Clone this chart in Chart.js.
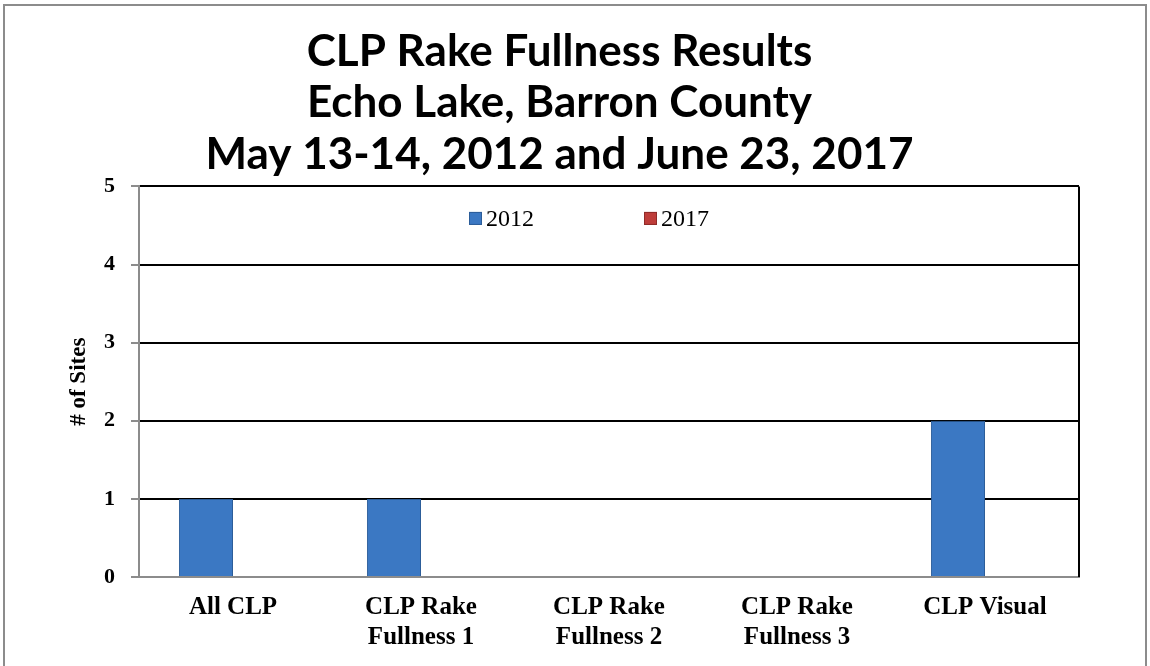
<!DOCTYPE html>
<html>
<head>
<meta charset="utf-8">
<script src="https://cdn.jsdelivr.net/npm/chart.js@4.4.0/dist/chart.umd.min.js"></script>
<style>
  html, body { margin: 0; padding: 0; background: #fff; }
  #wrap { position: relative; width: 1150px; height: 666px; }
  #frame { position: absolute; left: 3px; top: 4px; width: 1144px; height: 670px; border: 2px solid #8c8c8c; box-sizing: border-box; }
  canvas { position: absolute; left: 0; top: 0; }
</style>
</head>
<body>
<div id="wrap">
  <div id="frame"></div>
  <canvas id="chart" width="1150" height="666"></canvas>
</div>
<script>
  const categories = [
    'All CLP',
    ['CLP Rake', 'Fullness 1'],
    ['CLP Rake', 'Fullness 2'],
    ['CLP Rake', 'Fullness 3'],
    'CLP Visual'
  ];
  const sites2012 = [1, 1, 0, 0, 2];
  const sites2017 = [0, 0, 0, 0, 0];
  const titleLines = [
    'CLP Rake Fullness Results',
    'Echo Lake, Barron County',
    'May 13-14, 2012 and June 23, 2017'
  ];

  const serif = '"Liberation Serif", "Times New Roman", serif';

  // right edge of the plot box + in-plot legend (Excel style)
  const plotExtras = {
    id: 'plotExtras',
    afterDatasetsDraw(chart) {
      const a = chart.chartArea;
      const c = chart.ctx;
      c.save();
      c.strokeStyle = '#000';
      c.lineWidth = 2;
      c.beginPath();
      c.moveTo(a.right, a.top);
      c.lineTo(a.right, a.bottom);
      c.stroke();

      c.font = '24px ' + serif;
      c.textBaseline = 'middle';
      const box = 13, gap = 4, spacing = 110;
      const items = chart.data.datasets.map(ds => ({ ds, w: box + gap + c.measureText(ds.label).width }));
      const total = items.reduce((s, it) => s + it.w, 0) + spacing * (items.length - 1);
      let x = (a.left + a.right) / 2 - 20 - total / 2;
      const y = a.top + 32;
      items.forEach(it => {
        c.fillStyle = it.ds.backgroundColor;
        c.fillRect(x, y - box / 2, box, box);
        c.strokeStyle = it.ds.borderColor;
        c.lineWidth = 1;
        c.strokeRect(x + 0.5, y - box / 2 + 0.5, box - 1, box - 1);
        c.fillStyle = '#000';
        c.fillText(it.ds.label, x + box + gap, y + 1);
        x += it.w + spacing;
      });
      c.restore();
    }
  };

  const ctx = document.getElementById('chart').getContext('2d');
  new Chart(ctx, {
    type: 'bar',
    data: {
      labels: categories,
      datasets: [
        {
          label: '2012',
          data: sites2012,
          backgroundColor: '#3b78c3',
          borderColor: '#2c5d99',
          borderWidth: 1
        },
        {
          label: '2017',
          data: sites2017,
          backgroundColor: '#be3d3a',
          borderColor: '#8f2b29',
          borderWidth: 1
        }
      ]
    },
    plugins: [plotExtras],
    options: {
      responsive: false,
      animation: false,
      layout: { padding: { left: 40, right: 71, top: 26, bottom: 0 } },
      datasets: { bar: { categoryPercentage: 0.575, barPercentage: 1 } },
      plugins: {
        title: {
          display: true,
          text: titleLines,
          color: '#000',
          font: { family: 'Lato, "Open Sans", sans-serif', size: 44, weight: 'bold', lineHeight: 1.17 },
          padding: { top: 0, bottom: 6 }
        },
        legend: { display: false },
        tooltip: { enabled: false }
      },
      scales: {
        x: {
          grid: { display: false },
          border: { display: true, color: '#8c8c8c', width: 2 },
          ticks: {
            color: '#000',
            font: { family: serif, size: 25, weight: 'bold', lineHeight: 1.2 },
            maxRotation: 0,
            autoSkip: false,
            padding: 8
          },
          afterFit: (scale) => { scale.height = 89; }
        },
        y: {
          min: 0,
          max: 5,
          ticks: { stepSize: 1, color: '#000', font: { family: serif, size: 22, weight: 'bold' }, padding: 16 },
          grid: {
            color: (c) => c.tick && c.tick.value === 0 ? '#8c8c8c' : '#000',
            lineWidth: 2,
            tickLength: 8,
            tickColor: '#8c8c8c'
          },
          border: { display: true, color: '#8c8c8c', width: 2 },
          title: {
            display: true,
            text: '# of Sites',
            color: '#000',
            font: { family: serif, size: 23, weight: 'bold', lineHeight: 1.2 },
            padding: { top: 25, bottom: 11 }
          },
          afterFit: (scale) => { scale.width = 99; }
        }
      }
    }
  });
</script>
</body>
</html>
